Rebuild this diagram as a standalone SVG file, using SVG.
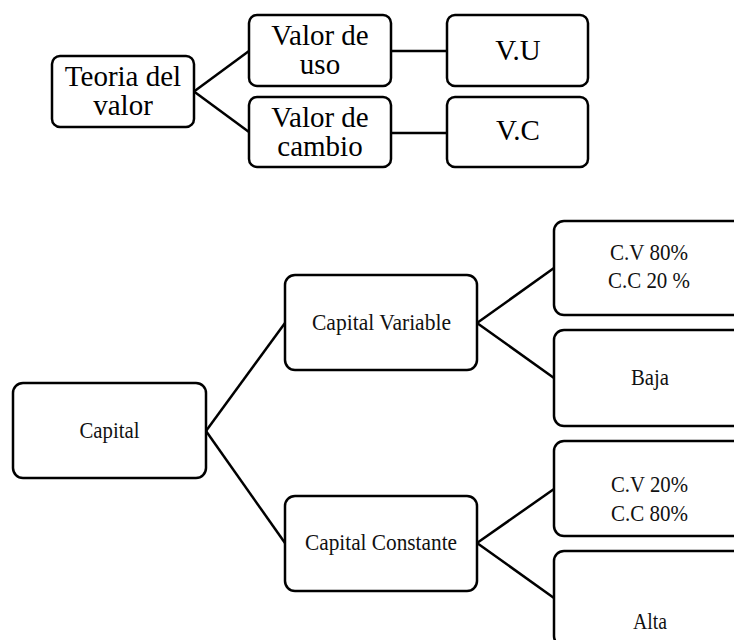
<svg xmlns="http://www.w3.org/2000/svg" width="734" height="640" viewBox="0 0 734 640">
<style>
.box{fill:#fff;stroke:#000;stroke-width:2.5}
.ln{fill:none;stroke:#000;stroke-width:2.5}
text{font-family:'Liberation Serif','Times New Roman',serif;fill:#000;text-anchor:middle}
.t1{font-size:29px}
.t2{font-size:24px;fill:#111}
</style>
<rect width="734" height="640" fill="#fff"/>
<g id="connectors">
<line class="ln" x1="194" y1="91.5" x2="249" y2="51"/>
<line class="ln" x1="194" y1="91.5" x2="249" y2="132"/>
<line class="ln" x1="391" y1="51" x2="447" y2="51"/>
<line class="ln" x1="391" y1="133" x2="447" y2="133"/>
<line class="ln" x1="206" y1="431" x2="285" y2="323"/>
<line class="ln" x1="206" y1="431" x2="285" y2="543"/>
<line class="ln" x1="477" y1="323" x2="554" y2="268"/>
<line class="ln" x1="477" y1="323" x2="554" y2="378"/>
<line class="ln" x1="477" y1="543" x2="554" y2="489"/>
<line class="ln" x1="477" y1="543" x2="554" y2="598"/>
</g>
<g id="teoria">
<rect class="box" x="52" y="56" width="142" height="71" rx="8"/>
<text class="t1" x="123" y="86">Teoria del</text>
<text class="t1" x="123" y="115">valor</text>
</g>
<g id="valor-uso">
<rect class="box" x="249" y="15" width="142" height="71" rx="8"/>
<text class="t1" x="320" y="45">Valor de</text>
<text class="t1" x="320" y="74">uso</text>
</g>
<g id="valor-cambio">
<rect class="box" x="249" y="97" width="142" height="70" rx="8"/>
<text class="t1" x="320" y="127">Valor de</text>
<text class="t1" x="320" y="156">cambio</text>
</g>
<g id="vu">
<rect class="box" x="447" y="15" width="141" height="71" rx="8"/>
<text class="t1" x="518" y="60">V.U</text>
</g>
<g id="vc">
<rect class="box" x="447" y="97" width="141" height="70" rx="8"/>
<text class="t1" x="518" y="140">V.C</text>
</g>
<g id="capital">
<rect class="box" x="13" y="383" width="193" height="95" rx="10"/>
<text class="t2" x="109.5" y="438" textLength="60" lengthAdjust="spacingAndGlyphs">Capital</text>
</g>
<g id="capital-variable">
<rect class="box" x="285" y="275" width="192" height="95" rx="10"/>
<text class="t2" x="381.5" y="330" textLength="139" lengthAdjust="spacingAndGlyphs">Capital Variable</text>
</g>
<g id="capital-constante">
<rect class="box" x="285" y="496" width="192" height="95" rx="10"/>
<text class="t2" x="381" y="550" textLength="152" lengthAdjust="spacingAndGlyphs">Capital Constante</text>
</g>
<g id="cv80">
<rect class="box" x="554" y="221" width="192" height="94" rx="10"/>
<text class="t2" x="649" y="260" textLength="78" lengthAdjust="spacingAndGlyphs">C.V 80%</text>
<text class="t2" x="649" y="288" textLength="82" lengthAdjust="spacingAndGlyphs">C.C 20 %</text>
</g>
<g id="baja">
<rect class="box" x="554" y="330" width="192" height="96" rx="10"/>
<text class="t2" x="650" y="385" textLength="38" lengthAdjust="spacingAndGlyphs">Baja</text>
</g>
<g id="cv20">
<rect class="box" x="554" y="441" width="192" height="95" rx="10"/>
<text class="t2" x="649.5" y="492" textLength="77" lengthAdjust="spacingAndGlyphs">C.V 20%</text>
<text class="t2" x="649.5" y="521" textLength="77" lengthAdjust="spacingAndGlyphs">C.C 80%</text>
</g>
<g id="alta">
<rect class="box" x="554" y="551" width="192" height="95" rx="10"/>
<text class="t2" x="650" y="629" textLength="34" lengthAdjust="spacingAndGlyphs">Alta</text>
</g>
</svg>
